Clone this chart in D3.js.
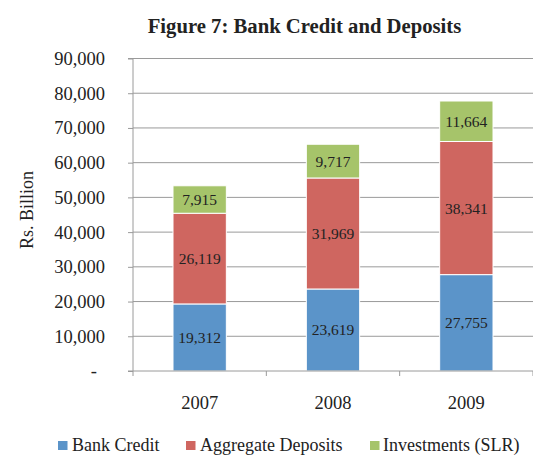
<!DOCTYPE html>
<html><head><meta charset="utf-8">
<script src="https://cdn.jsdelivr.net/npm/d3@7"></script>
<style>body{margin:0;background:#fff}svg{display:block}text{font-family:"Liberation Serif","Times New Roman",serif;fill:#222}</style>
</head><body><svg id="c" width="533" height="457"></svg>
<script>
const categories = ["2007", "2008", "2009"];
const seriesNames = ["Bank Credit", "Aggregate Deposits", "Investments (SLR)"];
const bankCredit = [19312, 23619, 27755];
const aggregateDeposits = [26119, 31969, 38341];
const investments = [7915, 9717, 11664];
const yTicks = [0, 10000, 20000, 30000, 40000, 50000, 60000, 70000, 80000, 90000];
const colors = ["#5B94C9", "#CF6660", "#A6C46A"];

const svg = d3.select("#c");
const L = 133, R = 533, T = 58.5, B = 371;
const x = d3.scaleBand().domain(categories).range([L, R]).paddingInner(0.6).paddingOuter(0.3);
const y = d3.scaleLinear().domain([0, 90000]).range([B, T]);
const fmt = d3.format(",");

// gridlines
svg.append("g").selectAll("line").data(yTicks.slice(1)).join("line")
  .attr("x1", L).attr("x2", R).attr("y1", d => y(d)).attr("y2", d => y(d))
  .attr("stroke", "#9a9a9a").attr("stroke-width", 1);

// y axis
const ya = svg.append("g").attr("transform", `translate(${L},0)`)
  .call(d3.axisLeft(y).tickValues(yTicks).tickSize(5).tickPadding(23).tickFormat(d => d === 0 ? "-" : fmt(d)));
ya.select(".domain").attr("stroke", "#9a9a9a").attr("d", `M-5,${T}H0V${B}H-5`);
ya.selectAll("line").attr("stroke", "#9a9a9a");
ya.selectAll("text").style("font-family", '"Liberation Serif",serif').style("font-size", "18.5px").attr("fill", "#222");
ya.selectAll(".tick").filter(d => d === 0).select("text").attr("dx", -8);

// stacked data
const rows = categories.map((c, i) => ({cat: c, s0: bankCredit[i], s1: aggregateDeposits[i], s2: investments[i]}));
const stack = d3.stack().keys(["s0", "s1", "s2"])(rows);

const g = svg.append("g");
stack.forEach((layer, li) => {
  g.selectAll(null).data(layer).join("rect")
    .attr("x", d => x(d.data.cat)).attr("width", x.bandwidth())
    .attr("y", d => y(d[1])).attr("height", d => y(d[0]) - y(d[1]))
    .attr("fill", colors[li]).attr("stroke", "#fff").attr("stroke-width", 1);
  g.selectAll(null).data(layer).join("text")
    .attr("x", d => x(d.data.cat) + x.bandwidth() / 2)
    .attr("y", d => (y(d[0]) + y(d[1])) / 2 + 5.5)
    .attr("text-anchor", "middle").style("font-size", "15.5px")
    .text(d => fmt(d[1] - d[0]));
});

// x axis
const xTickPos = [L, L + (R - L) / 3, L + 2 * (R - L) / 3, R];
svg.append("line").attr("x1", L).attr("x2", R).attr("y1", B).attr("y2", B).attr("stroke", "#9a9a9a");
svg.append("g").selectAll("line").data(xTickPos).join("line")
  .attr("x1", d => d).attr("x2", d => d).attr("y1", B).attr("y2", B + 5).attr("stroke", "#9a9a9a");
svg.append("g").selectAll("text").data(categories).join("text")
  .attr("x", d => x(d) + x.bandwidth() / 2).attr("y", 409)
  .attr("text-anchor", "middle").style("font-size", "18.5px").text(d => d);

// title
svg.append("text").attr("x", 304.5).attr("y", 33).attr("text-anchor", "middle")
  .style("font-size", "20.7px").style("font-weight", "bold").text("Figure 7: Bank Credit and Deposits");

// y label
svg.append("text").attr("transform", "translate(33,210) rotate(-90)").attr("text-anchor", "middle")
  .style("font-size", "18px").text("Rs. Billion");

// legend
const legX = [58, 186, 370];
const legT = [72, 200, 383];
const lg = svg.append("g");
seriesNames.forEach((n, i) => {
  lg.append("rect").attr("x", legX[i]).attr("y", 441).attr("width", 9.5).attr("height", 9).attr("fill", colors[i]);
  lg.append("text").attr("x", legT[i]).attr("y", 451).style("font-size", "18px").text(n);
});
</script></body></html>
